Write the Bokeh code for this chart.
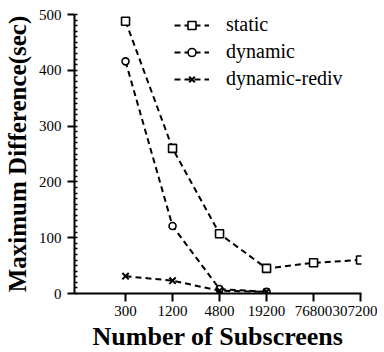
from bokeh.plotting import figure
from bokeh.models import FixedTicker, SingleIntervalTicker, Legend, LegendItem, Range1d
from bokeh.embed import file_html
from bokeh.resources import INLINE

subscreens = [300, 1200, 4800, 19200, 76800, 307200]
tick_labels = ["300", "1200", "4800", "19200", "76800", "307200"]
static_vals = [488, 260, 107, 45, 55, 60]
dyn_x = [300, 1200, 4800, 19200]
dynamic_vals = [416, 121, 8, 3]
rediv_vals = [31, 23, 5, 3]

FONT = "Liberation Serif"

p = figure(frame_width=287, frame_height=279, x_axis_type="log",
           x_range=Range1d(66.6, 315800), y_range=Range1d(0, 500),
           output_backend="svg", toolbar_location=None,
           min_border_left=10, min_border_right=16, min_border_top=14, min_border_bottom=10)
p.outline_line_color = None
p.xgrid.visible = False
p.ygrid.visible = False
p.background_fill_color = "white"

dash = "6 4"
r1l = p.line(subscreens, static_vals, line_color="black", line_width=2, line_dash=dash)
r1m = p.scatter(subscreens, static_vals, marker="square", size=8, fill_color="white",
                line_color="black", line_width=1.6)
r2l = p.line(dyn_x, dynamic_vals, line_color="black", line_width=2, line_dash=dash)
r2m = p.scatter(dyn_x, dynamic_vals, marker="circle", size=7, fill_color="white",
                line_color="black", line_width=1.6)
r3l = p.line(dyn_x, rediv_vals, line_color="black", line_width=2, line_dash=dash)
r3m = p.scatter(dyn_x, rediv_vals, marker="x", size=9, line_color="black", line_width=2)

legend = Legend(items=[
    LegendItem(label="static", renderers=[r1l, r1m]),
    LegendItem(label="dynamic", renderers=[r2l, r2m]),
    LegendItem(label="dynamic-rediv", renderers=[r3l, r3m]),
], location=(100, 203))
legend.border_line_color = None
legend.background_fill_alpha = 0
legend.padding = 0
legend.margin = 0
legend.spacing = 4
legend.glyph_width = 35
legend.glyph_height = 20
legend.label_height = 20
legend.label_standoff = 17
legend.label_text_font = FONT
legend.label_text_font_size = "20px"
legend.label_text_color = "black"
p.add_layout(legend)

xa = p.xaxis[0]
xa.ticker = FixedTicker(ticks=subscreens, minor_ticks=[])
xa.major_label_overrides = {v: s for v, s in zip(subscreens, tick_labels)}
xa.axis_label = "Number of Subscreens"

ya = p.yaxis[0]
ya.ticker = SingleIntervalTicker(interval=100, num_minor_ticks=10)
ya.axis_label = "Maximum Difference(sec)"

for ax in (xa, ya):
    ax.axis_line_width = 2
    ax.axis_line_color = "black"
    ax.major_tick_line_width = 2
    ax.major_tick_line_color = "black"
    ax.minor_tick_line_color = "black"
    ax.minor_tick_line_width = 1.5
    ax.major_tick_in = 0
    ax.major_label_text_font = FONT
    ax.major_label_text_font_size = "15px"
    ax.major_label_text_color = "black"
    ax.axis_label_text_font = FONT
    ax.axis_label_text_font_style = "bold"
    ax.axis_label_text_color = "black"

xa.major_tick_out = 8
xa.major_label_standoff = 4
xa.axis_label_text_font_size = "26px"
xa.axis_label_standoff = 3
ya.major_tick_out = 7
ya.minor_tick_in = 3
ya.minor_tick_out = 0
ya.major_label_standoff = 6
ya.axis_label_text_font_size = "25px"
ya.axis_label_standoff = 5

open("out.html", "w").write(file_html(p, INLINE))
